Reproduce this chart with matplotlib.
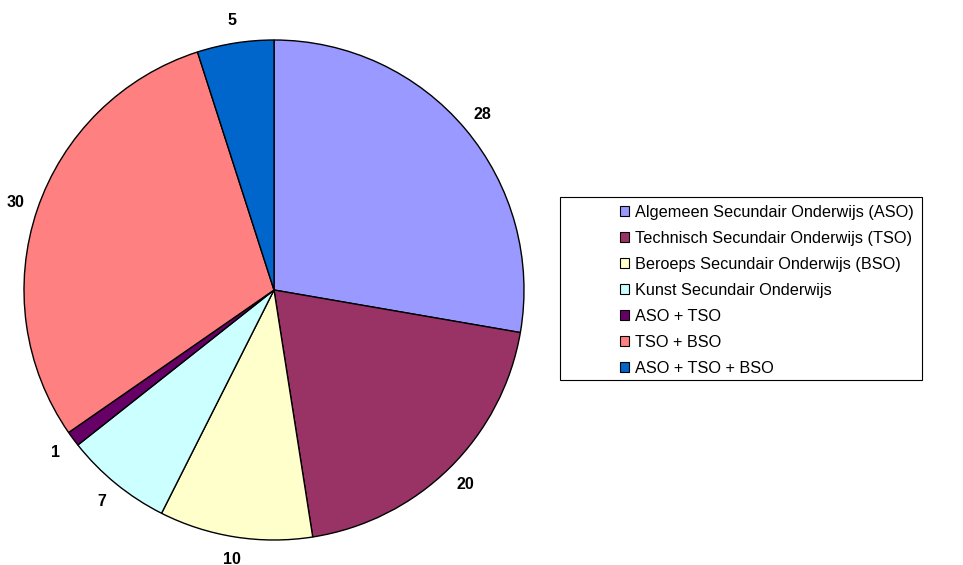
import matplotlib.pyplot as plt
from matplotlib.patches import Patch, Rectangle

plt.rcParams['font.family'] = ['Liberation Sans', 'DejaVu Sans']

# Gegevens
labels = ['Algemeen Secundair Onderwijs (ASO)',
          'Technisch Secundair Onderwijs (TSO)',
          'Beroeps Secundair Onderwijs (BSO)',
          'Kunst Secundair Onderwijs',
          'ASO + TSO',
          'TSO + BSO',
          'ASO + TSO + BSO']
values = [28, 20, 10, 7, 1, 30, 5]
colors = ['#9999FF', '#993366', '#FFFFCC', '#CCFFFF', '#660066', '#FF8080', '#0066CC']

W, H = 963, 565
fig = plt.figure(figsize=(W / 100, H / 100), dpi=100)

# Taart: middelpunt (274, 290), straal 250 px
cx, cy, r = 274, 290, 250
ax = fig.add_axes([(cx - r) / W, (H - cy - r) / H, 2 * r / W, 2 * r / H])
wedges, texts = ax.pie(values, colors=colors, startangle=90, counterclock=False,
                       labels=[str(v) for v in values], labeldistance=1.09,
                       wedgeprops=dict(edgecolor='black', linewidth=1.0))
for t in texts:
    t.set_ha('center')
    t.set_va('center')
    t.set_fontsize(11.5)
    t.set_fontweight('bold')
    t.set_clip_on(False)
ax.set_xlim(-1, 1)
ax.set_ylim(-1, 1)
ax.set_aspect('equal')

# Legenda met kader
x0, y0, x1, y1 = 560, 197, 922, 380
fig.patches.append(Rectangle((x0 / W, 1 - y1 / H), (x1 - x0) / W, (y1 - y0) / H,
                             transform=fig.transFigure, fill=False,
                             edgecolor='black', linewidth=0.8))
handles = [Patch(facecolor=c, edgecolor='black', linewidth=0.8) for c in colors]
fig.legend(handles, labels, loc='upper left', bbox_to_anchor=(607 / W, 1 - 192 / H),
           frameon=False, fontsize=11.7, handlelength=0.55, handleheight=0.55,
           handletextpad=0.35, labelspacing=0.675, borderpad=0.3)

fig.savefig('out.png', dpi=100)
